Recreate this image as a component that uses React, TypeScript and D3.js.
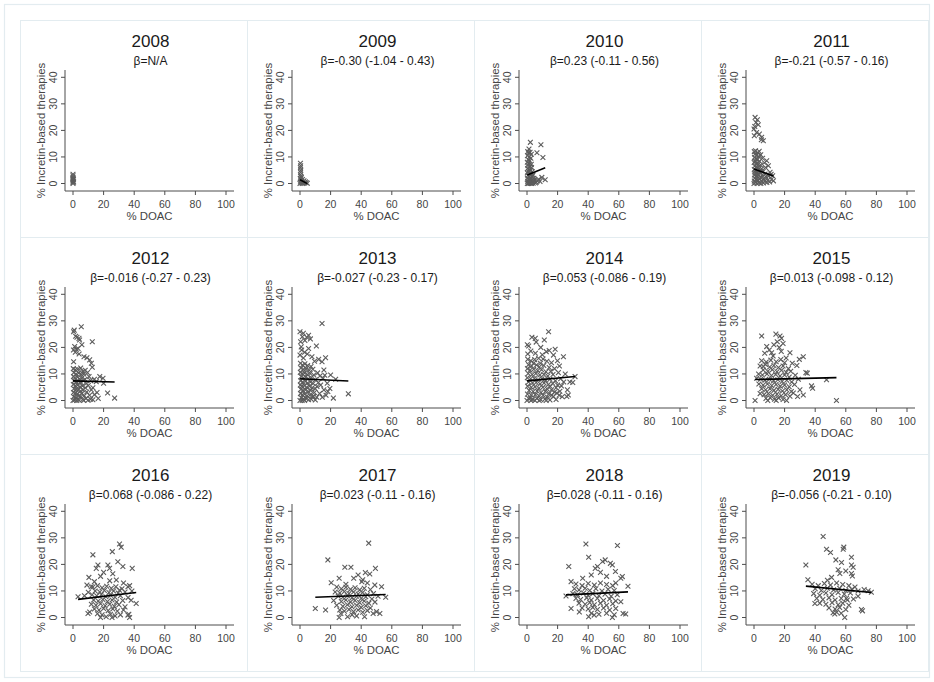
import React from "react";
import * as d3 from "d3";

type Pt = [number, number];

// Panel years and the slope / 95% CI text printed under each year
const years = ["2008", "2009", "2010", "2011", "2012", "2013", "2014", "2015", "2016", "2017", "2018", "2019"];
const betaText = ["N/A", "-0.30", "0.23", "-0.21", "-0.016", "-0.027", "0.053", "0.013", "0.068", "0.023", "0.028", "-0.056"];
const ciLow = ["", "-1.04", "-0.11", "-0.57", "-0.27", "-0.23", "-0.086", "-0.098", "-0.086", "-0.11", "-0.11", "-0.21"];
const ciHigh = ["", "0.43", "0.56", "0.16", "0.23", "0.17", "0.19", "0.12", "0.22", "0.16", "0.16", "0.10"];
// Intercepts of the fitted lines (NaN: no fit)
const intercepts = [NaN, 1.4, 3.2, 5.5, 7.4, 8.2, 7.4, 7.9, 6.6, 7.4, 7.8, 13.7];

const xTicks = [0, 20, 40, 60, 80, 100];
const yTicks = [0, 10, 20, 30, 40];

// % DOAC, % incretin-based therapies per practice
const pts2008: Pt[] = [[0,0],[0,0.4],[0,0.9],[0,1.3],[0,1.8],[0,2.2],[0,2.9],[0,3.5],[0.4,0.6],[0.3,1.6]];
const pts2009: Pt[] = [[0.3,7.6],[0.4,6.7],[0.3,5.9],[0.5,5],[0.4,4.2],[0.3,3.3],[0.6,2.6],[0.2,1.8],[0.8,1.2],[0.3,0.6],[0,0],[1.2,0.3],[1.6,1.5],[2.1,0.6],[2.6,1],[3,0.2],[3.5,0.6],[4.1,0.3],[4.8,0.1],[1.5,0],[0.9,2.2]];
const pts2010: Pt[] = [[0.5,12],[1,11.5],[2,11.8],[0.3,10.5],[1.5,10],[2.5,9.5],[0.8,9],[1.8,8.5],[0.2,8],[1.2,7.5],[2.8,7.2],[0.6,6.8],[2,6.3],[3,6],[0.4,5.6],[1.5,5.2],[2.5,5],[0.9,4.6],[3.5,4.4],[0.2,4],[1.8,3.8],[2.8,3.4],[4,3.2],[0.6,3],[1.4,2.6],[2.2,2.2],[3.3,2.5],[4.5,2],[0.3,2],[1,1.6],[2,1.2],[3,1],[5,1.3],[0.5,0.8],[1.5,0.5],[2.5,0.3],[3.8,0.6],[6,0.5],[0.2,0],[1.2,0],[2.3,0.1],[4,0.1],[1,0.2],[3,0],[5.5,0.2],[6.8,1],[7.6,1.6],[9.7,2.3],[11.9,1.4],[8.5,0.8],[4.3,1],[2.2,15.5],[9.1,14.6],[6.5,11.6],[10.4,9.8],[1.3,13],[2.8,11]];
const pts2011: Pt[] = [[0.7,24.9],[1.3,23],[2.8,22.1],[0,20.5],[1.7,19.2],[0.2,18],[3.5,18.6],[5,17.4],[6.1,16.1],[0.5,21.5],[2.2,24],[4.8,16.5],[0.2,12],[1,12.3],[2.5,11.6],[0.6,11],[1.8,10.6],[3.2,10.2],[0.3,9.8],[1.2,9.3],[2.4,9],[0.8,8.5],[3.6,8.4],[0.1,7.9],[1.6,7.6],[2.8,7.2],[4.3,7],[0.5,6.6],[1.4,6.2],[2.2,5.9],[3.4,5.6],[0.2,5.3],[5,5.5],[1,4.9],[2.6,4.6],[4,4.3],[0.7,4.1],[6,4.5],[1.9,3.8],[3,3.4],[0.3,3.2],[5.2,3.1],[7.2,3.6],[1.3,2.8],[2.4,2.5],[4.5,2.2],[0.5,2],[3.6,1.8],[6.3,1.9],[8,2.4],[1.6,1.4],[2.8,1.1],[0.2,0.9],[5.1,0.8],[7,0.9],[9,1.2],[1,0.4],[3.2,0.3],[4.5,0],[0,0],[2,0],[6.2,0.2],[8.4,0.4],[10.2,0.6],[11.5,1.6],[12.7,1],[12.2,2.9],[10.5,4.2],[9.4,6.7],[8.3,8.6],[7.5,6],[6.8,7.8],[5.6,9.5],[4.4,10.8],[3.4,12.1],[11.2,3.5],[9.8,2.8]];
const pts2012: Pt[] = [[5.4,27.8],[0.4,25.9],[1.7,24.2],[3.9,23.4],[4.3,22.8],[12.6,22.1],[1.1,20.3],[2.2,19.3],[3.3,19.6],[9.1,16.1],[10.9,15.3],[0.4,14.6],[12,14],[12.6,12.5],[19.6,8.4],[15.2,7.1],[15.7,3],[22.6,2.8],[27.2,0.9],[12,4],[0.8,26.5],[2.6,23.8],[0.3,19],[1.5,18.2],[5.8,21],[4,17.5],[7.2,16.5],[0.2,12],[1.5,11.6],[3,11.8],[5,12.2],[6.5,11],[8,11.4],[0.5,10.5],[2,10],[3.8,10.4],[5.5,9.8],[7,10],[9.5,10.5],[0.3,9],[1.2,8.6],[2.8,8.8],[4.3,8.2],[6,8.6],[7.8,8],[10.5,9],[0.8,7.4],[2.2,7],[3.6,7.2],[5.2,6.8],[6.8,7.4],[8.8,6.5],[11.5,7.5],[0.2,6],[1.6,5.6],[3,5.8],[4.6,5.2],[6.2,5.5],[8,4.8],[10,5.6],[0.6,4.4],[2,4.2],[3.4,4],[5,3.6],[6.6,4],[9,3.2],[13,4.8],[0.3,3],[1.4,2.6],[2.8,2.4],[4.2,2],[5.8,2.6],[7.4,1.8],[10.8,2],[14,2.2],[0.5,1.4],[1.8,1],[3.2,0.6],[4.8,1.2],[6.4,0.4],[8.5,0.8],[11.5,0.5],[0,0],[1,0.2],[2.5,0],[4,0.1],[7,0],[9.8,0.1],[13,0.3],[16.5,0.8],[17.5,9],[14,8],[20,6.5]];
const pts2013: Pt[] = [[14.4,29],[0,25.9],[2.2,25.3],[5.6,24.6],[4.4,23.8],[0.4,22.1],[10.7,20.5],[5.6,19.6],[1.1,19],[0,17.1],[16.7,16.1],[12.2,15.5],[7.8,16.5],[14.4,14.6],[15.6,11.5],[20,9.6],[15.1,8.4],[23.3,8],[15.6,4],[18.2,3.4],[21.8,0.9],[31.6,2.5],[11.1,5.3],[8.9,1.5],[1.5,24],[3.2,22.6],[6.8,23.2],[0.8,20.2],[3,18.2],[4.8,17.5],[9.5,14.8],[2.2,16],[0.3,14],[1.6,13.4],[3.2,13.8],[5,13.2],[7.2,12.8],[0.6,12.2],[2.4,11.8],[4,12],[6,11.4],[8.4,11.8],[0.2,10.6],[1.4,10.2],[3,10.4],[4.8,9.8],[6.6,10.2],[9,9.6],[11.5,10.4],[0.8,9],[2.2,8.6],[3.8,8.8],[5.4,8.2],[7.4,8.6],[10,7.8],[13,9.2],[0.4,7.4],[1.8,7],[3.4,7.2],[5,6.6],[6.8,7],[8.6,6.4],[12,6.8],[0.2,5.8],[1.2,5.4],[2.8,5.6],[4.4,5],[6.2,5.4],[8,4.8],[10,4.4],[13.5,5.8],[0.6,4.2],[2,3.8],[3.6,4],[5.4,3.4],[7,3.8],[9.4,3],[12.8,2.6],[0.3,2.6],[1.6,2.2],[3,2.4],[4.6,1.8],[6.4,2],[8.2,1.4],[11,1.2],[0.8,1],[2.2,0.6],[3.8,0.8],[5.6,0.3],[7.4,0.5],[10,0.2],[0,0],[1.4,0],[3,0],[14.6,1.2],[17,2],[19.5,4.5],[17.8,6.5],[16.2,9.5]];
const pts2014: Pt[] = [[14.1,25.9],[3.2,23.8],[5.4,23.4],[11.3,22.8],[1.1,20.5],[18.4,19.3],[12.6,18.4],[23.8,16.5],[17.3,17.1],[19.9,15],[21.2,13],[7.6,15.9],[4.3,14],[31.4,9],[29.9,6.8],[26.4,4],[27,2.1],[19.5,2.8],[17.3,1.5],[15.2,5.3],[2.2,0.9],[6,22],[9,20],[2.5,18.6],[0.5,17.5],[14.5,18.8],[10,17.2],[5.5,17.8],[8.8,14],[0.2,21],[0.5,15.5],[2.5,15],[5,15.4],[10.5,15.6],[13,14.8],[16,14.2],[1,13.5],[3,13],[6.2,13.4],[8,12.6],[11,13.2],[14.5,12.4],[18,12],[0.3,12],[2,11.4],[4.4,11.8],[7,11.2],[9.5,11.6],[12.4,10.8],[15.5,11],[0.8,10.2],[3.4,9.8],[5.8,10.2],[8.4,9.6],[11,9.8],[13.6,9.2],[17,9.8],[20.5,10.5],[0.2,8.6],[2.4,8.2],[4.8,8.4],[7.2,7.8],[9.8,8.2],[12.2,7.6],[15,8],[18.6,7.4],[22,8.2],[1,7],[3.6,6.6],[6,6.8],[8.6,6.2],[11.2,6.6],[14,6],[16.8,6.5],[20,5.8],[24,7],[0.4,5.4],[2.8,5],[5.2,5.2],[7.8,4.6],[10.4,5],[13,4.4],[16,4],[19,4.8],[22.5,5.5],[1.4,3.8],[4,3.4],[6.6,3.6],[9.2,3],[12,3.4],[14.5,2.6],[18,3.2],[21.5,3.5],[0.3,2.4],[2.8,2],[5.4,2.2],[8,1.6],[10.6,2],[13.4,1.2],[16.2,2],[23,1.4],[1,0.8],[3.8,0.4],[6.4,0.8],[9,0.3],[11.8,0.6],[15,0.2],[0,0],[2.6,0],[5.2,0],[8,0],[12.5,0],[19,0.4],[26,1.5],[28,7],[25,10],[21,2]];
const pts2015: Pt[] = [[5,24.3],[14.3,25],[17,24.3],[18,23.4],[15.2,22.1],[23.5,18],[32.2,16.5],[29.6,15.5],[8.3,20.3],[11.5,18],[6.1,12.8],[1.7,8.4],[34.8,10.3],[33.9,10.5],[37.6,5.5],[38.3,4.6],[32.2,2.1],[47.4,7.8],[53.9,0],[0.7,0],[21.3,0],[25.7,2.8],[13,21],[16.5,20],[19,21.5],[10,19],[7,17.8],[17.8,18.5],[21,16],[12.5,16.8],[25,14],[28,13.2],[5,15],[8,14.5],[11,15.2],[14.5,14.6],[17.5,15.4],[20,14.2],[4,13],[7.5,13.6],[10.2,12.6],[13,13.2],[16,12.4],[19,13],[22.5,12],[6,11.5],[9,11],[12,11.6],[15,10.8],[18,11.4],[21,10.6],[24,11],[3,10],[5.5,9.6],[8.5,10],[11.4,9.4],[14.2,9.8],[17,9.2],[20,9.6],[23,8.8],[27,9.5],[4.4,8],[7.2,7.6],[10,8],[12.8,7.4],[15.6,7.8],[18.4,7.2],[21.4,7.6],[24.6,7],[29,8],[3.2,6.2],[6,5.8],[8.8,6.2],[11.6,5.6],[14.4,6],[17.2,5.4],[20,5.8],[23,5.2],[26.5,6],[5,4.4],[7.6,4],[10.4,4.4],[13,3.8],[15.8,4.2],[18.6,3.6],[21.4,4],[24.4,3.4],[4,2.6],[6.6,2.2],[9.4,2.6],[12.2,2],[15,2.4],[17.8,1.8],[20.6,2.2],[23.5,1.6],[7.8,0.8],[10.6,1],[13.4,0.5],[16,1],[19,0.4],[9,0],[14.5,0],[30,4],[28.5,1.5]];
const pts2016: Pt[] = [[30.4,27.7],[31.5,26.5],[25.7,24.8],[13,23.6],[16.3,19.8],[15.2,18.5],[22.8,19.8],[23.9,18.5],[32.6,19.2],[38.7,18.5],[29.3,21],[10.4,15.1],[9.1,12.2],[11.9,11.6],[35.9,11.6],[30.4,10.3],[3.3,7.8],[41.3,5.3],[35.9,0.9],[37,0],[10.9,2.1],[9.8,1.5],[21.7,0.3],[28.3,14.1],[20,17],[18,15.5],[26,16.5],[33,13],[14,13.5],[24,13.8],[37,12],[13,11.5],[16,12],[19,11.2],[22,11.8],[25,11],[28,11.6],[32,10.8],[14.5,10],[17.5,9.6],[20.5,10.2],[23.5,9.4],[26.5,10],[29.5,9.2],[34,9.6],[12.5,8.6],[15.5,8.2],[18.5,8.6],[21.5,7.8],[24.5,8.4],[27.5,7.6],[31,8.2],[36,7.5],[13.5,6.6],[16.5,6.2],[19.5,6.8],[22.5,6],[25.5,6.6],[28.5,5.8],[32.5,6.4],[38,6.5],[12,5],[15,4.6],[18,5.2],[21,4.4],[24,5],[27,4.2],[30,4.8],[34,4],[14,3.2],[17,2.8],[20,3.4],[23,2.6],[26,3.2],[29,2.4],[33,2.8],[16,1.4],[19,1],[24.5,1.2],[27.5,0.6],[31,1],[18,0],[25.5,0],[36.5,1.2],[7.5,8.2],[10,9.5],[38.5,10]];
const pts2017: Pt[] = [[44.9,28],[18.2,21.7],[29.3,18.9],[33.3,18.9],[49.3,18.5],[42.7,16.9],[45.6,16.4],[20.4,13.1],[25.6,14.8],[35.1,14.8],[40.4,13.5],[48.9,12.2],[53.3,11.6],[56,7.6],[10,3.4],[16.7,2.8],[25.6,0],[31.1,0.3],[42.2,0.3],[47.8,1.5],[52.2,1.5],[26.7,1.5],[38,16],[41,14.2],[30,12.5],[44,13],[24,11.5],[27,10.8],[30,11.4],[33,10.6],[36,11.2],[39,10.4],[42,11],[46,10.5],[23,9.6],[26,9.2],[29,9.8],[32,9],[35,9.6],[38,8.8],[41,9.4],[44,8.6],[48,9],[25,8],[28,7.6],[31,8.2],[34,7.4],[37,8],[40,7.2],[43,7.8],[47,7],[51,8],[22,6.4],[27,6],[30,6.6],[33,5.8],[36,6.4],[39,5.6],[42,6.2],[45,5.4],[49,5.8],[24,4.6],[28,4.2],[31,4.8],[34,4],[37,4.6],[40,3.8],[43,4.4],[46,3.6],[26,2.8],[29,2.4],[32,3],[35,2.2],[38,2.8],[41,2],[44,2.6],[50,2.2],[34,1],[37,0.6]];
const pts2018: Pt[] = [[38.5,27.7],[59.1,27.1],[40.3,22.7],[27.3,19.2],[55.8,19.8],[49.4,21.1],[51.1,21.7],[54.5,20.4],[57.8,17.3],[62.3,15.4],[61.3,14.8],[44.6,18.5],[46.1,19.2],[36.4,14.8],[66,11.8],[28.8,13.5],[25.5,8.1],[61.3,5.9],[62.8,1.5],[64.5,1.3],[28.8,3.4],[34.2,2.1],[43.9,0.9],[55.8,0],[40.3,0.3],[48,17],[52,15.5],[42,16],[58,13],[32,12.6],[36,12],[40,12.8],[44,12.2],[48,13],[52,12.4],[56,12],[31,10.8],[34,10.4],[38,11],[41,10.2],[45,10.8],[49,10],[53,10.6],[57,10.2],[30,9],[33,8.6],[37,9.2],[40,8.4],[43,9],[47,8.2],[51,8.8],[55,8],[59,8.6],[32,7.2],[35,6.8],[39,7.4],[42,6.6],[46,7.2],[50,6.4],[54,7],[58,6.2],[34,5.4],[38,5],[41,5.6],[44,4.8],[48,5.4],[52,4.6],[56,5.2],[36,3.6],[40,3.2],[43,3.8],[46,3],[50,3.6],[54,2.8],[58,3.4],[42,1.6],[47,1.2],[52,1.6],[57,1]];
const pts2019: Pt[] = [[45.2,30.5],[58.7,26.5],[47.4,25.7],[50,24.5],[58.3,25.7],[63.7,22.7],[33.9,19.8],[53.5,21.7],[57.2,20.7],[63.7,19.8],[64.8,18.9],[63.7,16.6],[64.3,15.6],[35.2,14.2],[56.1,16.6],[50.7,15.1],[74.6,10.1],[76.7,9.5],[70.2,3],[70.9,2.5],[59.3,0],[39.8,5.3],[52.8,1.3],[51.7,1.8],[60.4,7.2],[55,18],[60,17.5],[48,14],[38,12.5],[42,12],[46,12.8],[50,12.2],[54,13],[58,12.4],[62,12],[66,11.5],[40,10.8],[44,10.2],[48,11],[52,10.4],[56,11],[60,10.2],[64,10.6],[68,10],[39,9],[43,8.4],[47,9.2],[51,8.6],[55,9.4],[59,8.8],[63,9.2],[41,7.2],[45,6.8],[49,7.4],[53,6.6],[57,7.2],[61,6.6],[65,7],[43,5.4],[47,5],[51,5.6],[55,4.8],[58,5.4],[62,4.6],[49,3.6],[53,3.2],[56,3.8],[60,3],[54,2],[57,1.6],[72,10.5],[68,8]];

const points: Pt[][] = [pts2008, pts2009, pts2010, pts2011, pts2012, pts2013, pts2014, pts2015, pts2016, pts2017, pts2018, pts2019];

const WIDTH = 934;
const HEIGHT = 682;
const COLS = 4;
const PANEL_X0 = 20;
const PANEL_Y0 = 20;
const PANEL_W = 227;
const PANEL_H = 217;
const FONT = "'Liberation Sans', Arial, Helvetica, sans-serif";
const FRAME = "#e3ecf0";
const AXIS = "#4d4d4d";
const TEXT = "#454545";

// Plot region within one panel
const x = d3.scaleLinear().domain([0, 100]).range([53, 206]);
const y = d3.scaleLinear().domain([0, 40]).range([163.5, 57.3]);
const AXIS_X = 45;
const AXIS_Y = 171;
const AXIS_RIGHT = 214;
const AXIS_TOP = 50;

function Cross({ cx, cy }: { cx: number; cy: number }) {
  const r = 2.4;
  return (
    <path
      d={`M${cx - r},${cy - r}L${cx + r},${cy + r}M${cx - r},${cy + r}L${cx + r},${cy - r}`}
      stroke="#5c5c5c"
      strokeWidth={1.1}
      fill="none"
    />
  );
}

function Panel({ i }: { i: number }) {
  const col = i % COLS;
  const row = Math.floor(i / COLS);
  const px = PANEL_X0 + col * PANEL_W;
  const py = PANEL_Y0 + row * PANEL_H;
  const data = points[i];
  const slope = parseFloat(betaText[i]);
  const a = intercepts[i];
  const hasFit = !isNaN(slope) && !isNaN(a);
  const [xmin, xmax] = d3.extent(data, (d) => d[0]) as [number, number];
  const fit = d3
    .line<number>()
    .x((v) => x(v))
    .y((v) => y(a + slope * v));
  const label = hasFit ? `β=${betaText[i]} (${ciLow[i]} - ${ciHigh[i]})` : `β=${betaText[i]}`;
  const midX = (x(0) + x(100)) / 2;

  return (
    <g transform={`translate(${px},${py})`}>
      <rect x={0.5} y={0.5} width={PANEL_W} height={PANEL_H} fill="#fff" stroke={FRAME} strokeWidth={1} />
      <text x={midX + 1} y={27} textAnchor="middle" fontSize={17} fill="#1a1a1a" fontFamily={FONT}>
        {years[i]}
      </text>
      <text x={midX + 1} y={44.5} textAnchor="middle" fontSize={12} fill="#1a1a1a" fontFamily={FONT}>
        {label}
      </text>

      {/* axes */}
      <line x1={AXIS_X} x2={AXIS_X} y1={AXIS_TOP} y2={AXIS_Y} stroke={AXIS} strokeWidth={1} />
      <line x1={AXIS_X} x2={AXIS_RIGHT} y1={AXIS_Y} y2={AXIS_Y} stroke={AXIS} strokeWidth={1} />
      {yTicks.map((t) => (
        <g key={`y${t}`}>
          <line x1={AXIS_X - 4} x2={AXIS_X} y1={y(t)} y2={y(t)} stroke={AXIS} strokeWidth={1} />
          <text
            transform={`translate(${37},${y(t)}) rotate(-90)`}
            textAnchor="middle"
            fontSize={10.5}
            fill={TEXT}
            fontFamily={FONT}
          >
            {t}
          </text>
        </g>
      ))}
      {xTicks.map((t) => (
        <g key={`x${t}`}>
          <line x1={x(t)} x2={x(t)} y1={AXIS_Y} y2={AXIS_Y + 4} stroke={AXIS} strokeWidth={1} />
          <text x={x(t)} y={188} textAnchor="middle" fontSize={10.5} fill={TEXT} fontFamily={FONT}>
            {t}
          </text>
        </g>
      ))}
      <text
        transform={`translate(25,${(AXIS_TOP + AXIS_Y) / 2}) rotate(-90)`}
        textAnchor="middle"
        fontSize={11.4}
        fill={TEXT}
        fontFamily={FONT}
      >
        % Incretin-based therapies
      </text>
      <text x={midX} y={200} textAnchor="middle" fontSize={11.4} fill={TEXT} fontFamily={FONT}>
        % DOAC
      </text>

      {/* scatter */}
      {data.map((d, k) => (
        <Cross key={k} cx={x(d[0])} cy={y(d[1])} />
      ))}

      {/* fitted line */}
      {hasFit && (
        <path d={fit([xmin, xmax]) ?? ""} stroke="#000" strokeWidth={1.6} fill="none" />
      )}
    </g>
  );
}

export default function App() {
  return (
    <svg
      width={WIDTH}
      height={HEIGHT}
      style={{ position: "absolute", left: 0, top: 0, display: "block", background: "#fff" }}
    >
      <rect x={4.5} y={4.5} width={925} height={673} fill="#fff" stroke={FRAME} strokeWidth={1.2} />
      {years.map((_, i) => (
        <Panel key={years[i]} i={i} />
      ))}
    </svg>
  );
}
